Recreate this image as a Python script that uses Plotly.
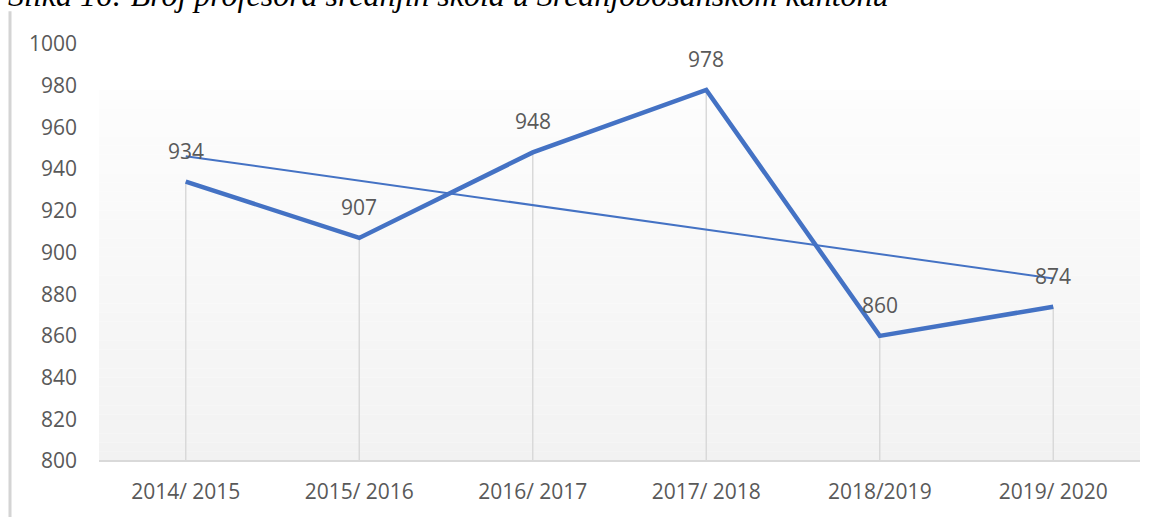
import plotly.graph_objects as go

categories = ["2014/ 2015", "2015/ 2016", "2016/ 2017", "2017/ 2018", "2018/2019", "2019/ 2020"]
values = [934, 907, 948, 978, 860, 874]
trend_x = ["2014/ 2015", "2019/ 2020"]
trend_values = [946.2, 887.5]
y_ticks = [800, 820, 840, 860, 880, 900, 920, 940, 960, 980, 1000]
title_text = "Slika 16: Broj profesora srednjih škola u Srednjobosanskom kantonu"

W, H = 1158, 517
L, R, T, B = 99, 18, 44, 54
pw, ph = W - L - R, H - T - B

def px_x(p):
    return (p - L) / pw

def px_y(p):
    return (H - B - p) / ph

LINE = "#4472C4"
TXT = "#595959"
GRID = "#d9d9d9"
FONT = "Open Sans"
FS = 21

fig = go.Figure()

# drop lines via error bars
fig.add_trace(go.Scatter(
    x=categories, y=values, mode="markers",
    marker=dict(size=0.1, color="rgba(0,0,0,0)"),
    error_y=dict(type="data", symmetric=False,
                 array=[0] * len(values),
                 arrayminus=[v - y_ticks[0] for v in values],
                 color=GRID, thickness=1.5, width=0),
    hoverinfo="skip", showlegend=False))

fig.add_trace(go.Scatter(
    x=trend_x, y=trend_values, mode="lines",
    line=dict(color=LINE, width=2), showlegend=False))

fig.add_trace(go.Scatter(
    x=categories, y=values, mode="lines",
    line=dict(color=LINE, width=4.5), showlegend=False))

shapes = []
# background gradient (white -> light gray)
n = 40
top_px, bot_px = 90, H - B
for i in range(n):
    y0p = top_px + (bot_px - top_px) * i / n
    y1p = top_px + (bot_px - top_px) * (i + 1) / n
    t = (i + 0.5) / n
    c = round(253 - (253 - 242) * t)
    shapes.append(dict(type="rect", xref="paper", yref="paper",
                       x0=px_x(L), x1=px_x(W - R), y0=px_y(y1p), y1=px_y(y0p),
                       fillcolor=f"rgb({c},{c},{c})", line=dict(width=0), layer="below"))
# baseline
shapes.append(dict(type="line", xref="paper", yref="paper", x0=0, x1=1, y0=0, y1=0,
                   line=dict(color=GRID, width=2), layer="above"))
# left frame line
shapes.append(dict(type="line", xref="paper", yref="paper",
                   x0=px_x(10), x1=px_x(10), y0=px_y(11), y1=px_y(H + 5),
                   line=dict(color="#d4d4d4", width=3)))

annotations = []
for c, v in zip(categories, values):
    annotations.append(dict(x=c, y=v, xref="x", yref="y", text=str(v), showarrow=False,
                            yshift=31, font=dict(family=FONT, size=FS, color=TXT)))
annotations.append(dict(x=px_x(6), y=px_y(-5), xref="paper", yref="paper",
                        xanchor="left", yanchor="middle", text="<i>" + title_text + "</i>",
                        showarrow=False,
                        font=dict(family="Liberation Serif", size=32, color="#000000")))

fig.update_layout(
    width=W, height=H,
    margin=dict(l=L, r=R, t=T, b=B),
    paper_bgcolor="white", plot_bgcolor="rgba(0,0,0,0)",
    shapes=shapes, annotations=annotations, showlegend=False,
    xaxis=dict(type="category", categoryorder="array", categoryarray=categories,
               range=[-0.5, len(categories) - 0.5], showgrid=False, zeroline=False,
               showline=False, ticks="", ticklabelstandoff=16,
               tickfont=dict(family=FONT, size=FS, color=TXT)),
    yaxis=dict(range=[y_ticks[0], y_ticks[-1]], tickvals=y_ticks, showgrid=False,
               zeroline=False, showline=False, ticks="", ticklabelstandoff=21,
               tickfont=dict(family=FONT, size=FS, color=TXT)),
)

fig.write_html("out.html", config={"displayModeBar": False},
               post_script="document.body.style.margin='0px';")
